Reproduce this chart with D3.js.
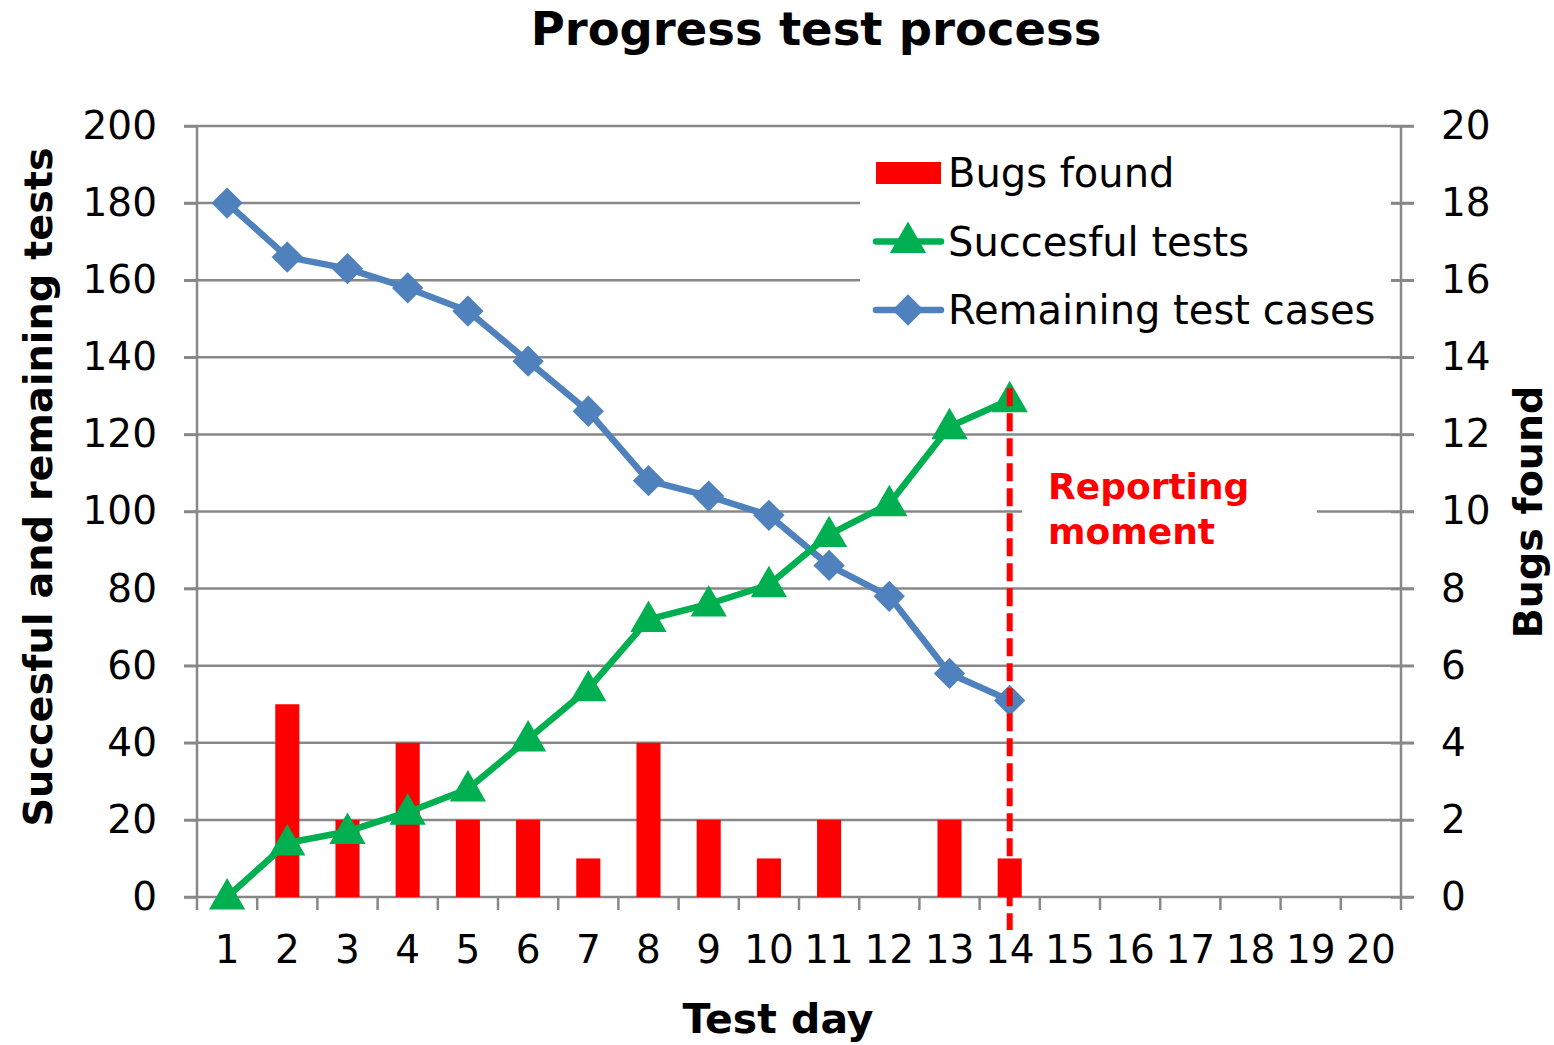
<!DOCTYPE html>
<html>
<head>
<meta charset="utf-8">
<script src="https://cdn.jsdelivr.net/npm/d3@7"></script>
<style>
  body { margin: 0; background: #fff; }
  svg { display: block; font-family: Verdana, "DejaVu Sans", sans-serif; }
</style>
</head>
<body>
<svg id="chart" width="1554" height="1045"></svg>
<script>
const days = d3.range(1, 21);
const bugsFound = [0, 5, 2, 4, 2, 2, 1, 4, 2, 1, 2, 0, 2, 1];
const succesfulTests = [0, 14, 17, 22, 28, 41, 54, 72, 76, 81, 94, 102, 122, 129];
const remainingTests = [180, 166, 163, 158, 152, 139, 126, 108, 104, 99, 86, 78, 58, 51];
const leftTicks = d3.range(0, 201, 20);
const rightTicks = d3.range(0, 21, 2);
const reportingDay = 14;

const red = '#ff0000', green = '#00b050', blue = '#4f81bd', grid = '#888888';

const svg = d3.select('#chart');
const plotL = 197, plotR = 1401, plotT = 126, plotB = 897;

const x = d3.scaleBand().domain(days).range([plotL, plotR]).padding(0);
const yL = d3.scaleLinear().domain([0, 200]).range([plotB, plotT]);
const yR = d3.scaleLinear().domain([0, 20]).range([plotB, plotT]);
const cx = d => x(d) + x.bandwidth() / 2;

// gridlines
svg.append('g').selectAll('line').data(leftTicks).join('line')
  .attr('x1', plotL - 13).attr('x2', plotR + 13)
  .attr('y1', d => yL(d)).attr('y2', d => yL(d))
  .attr('stroke', grid).attr('stroke-width', 2.5);

// left axis
const gl = svg.append('g').attr('transform', `translate(${plotL},0)`)
  .call(d3.axisLeft(yL).tickValues(leftTicks).tickSize(13).tickPadding(27));
gl.select('.domain').attr('stroke', grid).attr('stroke-width', 2.5).attr('d', `M0,${plotT}V${plotB}`);
gl.selectAll('.tick line').attr('stroke', grid).attr('stroke-width', 2.5);
gl.selectAll('.tick text').attr('font-size', 39).attr('fill', '#000');
gl.attr('font-family', null);

// right axis
const gr = svg.append('g').attr('transform', `translate(${plotR},0)`)
  .call(d3.axisRight(yR).tickValues(rightTicks).tickSize(13).tickPadding(27));
gr.select('.domain').attr('stroke', grid).attr('stroke-width', 2.5).attr('d', `M0,${plotT}V${plotB}`);
gr.selectAll('.tick line').attr('stroke', grid).attr('stroke-width', 2.5).attr('x1', -10);
gr.selectAll('.tick text').attr('font-size', 39).attr('fill', '#000');
gr.attr('font-family', null);

// bottom axis
const gb = svg.append('g').attr('transform', `translate(0,${plotB})`)
  .call(d3.axisBottom(x).tickSize(0).tickPadding(38));
gb.select('.domain').remove();
gb.selectAll('.tick text').attr('font-size', 39).attr('fill', '#000');
gb.attr('font-family', null);
gb.append('g').selectAll('line').data(days.concat([21])).join('line')
  .attr('x1', d => d <= 20 ? x(d) : plotR).attr('x2', d => d <= 20 ? x(d) : plotR)
  .attr('y1', 0).attr('y2', 13)
  .attr('stroke', grid).attr('stroke-width', 2.5);

// bars
const barW = x.bandwidth() * 0.4;
svg.append('g').selectAll('rect').data(bugsFound).join('rect')
  .attr('x', (d, i) => cx(days[i]) - barW / 2)
  .attr('width', barW)
  .attr('y', d => yR(d))
  .attr('height', d => plotB - yR(d))
  .attr('fill', red);

const diamond = d3.symbol().type(d3.symbolSquare).size(490);
const triangle = d3.symbol().type(d3.symbolTriangle).size(570);

// remaining
svg.append('path').datum(remainingTests)
  .attr('fill', 'none').attr('stroke', blue).attr('stroke-width', 6.5).attr('stroke-linejoin', 'round')
  .attr('d', d3.line().x((d, i) => cx(days[i])).y(d => yL(d)));
svg.append('g').selectAll('path').data(remainingTests).join('path')
  .attr('d', diamond)
  .attr('transform', (d, i) => `translate(${cx(days[i])},${yL(d)}) rotate(45)`)
  .attr('fill', blue);

// succesful
svg.append('path').datum(succesfulTests)
  .attr('fill', 'none').attr('stroke', green).attr('stroke-width', 6.5).attr('stroke-linejoin', 'round')
  .attr('d', d3.line().x((d, i) => cx(days[i])).y(d => yL(d)));
svg.append('g').selectAll('path').data(succesfulTests).join('path')
  .attr('d', triangle)
  .attr('transform', (d, i) => `translate(${cx(days[i])},${yL(d) + 2})`)
  .attr('fill', green);

// legend
const lg = svg.append('g');
lg.append('rect').attr('x', 860).attr('y', 146).attr('width', 531).attr('height', 206).attr('fill', '#fff');
const items = [
  { name: 'Bugs found', type: 'bar', color: red },
  { name: 'Succesful tests', type: 'tri', color: green },
  { name: 'Remaining test cases', type: 'dia', color: blue }
];
items.forEach((it, i) => {
  const yy = 173 + i * 68.5;
  if (it.type === 'bar') {
    lg.append('rect').attr('x', 876).attr('y', yy - 11).attr('width', 65).attr('height', 22).attr('fill', it.color);
  } else {
    lg.append('line').attr('x1', 876).attr('x2', 941).attr('y1', yy).attr('y2', yy)
      .attr('stroke', it.color).attr('stroke-width', 6.5).attr('stroke-linecap', 'round');
    lg.append('path').attr('d', it.type === 'tri' ? triangle : diamond)
      .attr('transform', it.type === 'tri' ? `translate(908,${yy + 1})` : `translate(908,${yy}) rotate(45)`)
      .attr('fill', it.color);
  }
  lg.append('text').attr('x', 948).attr('y', yy + 14).attr('font-size', 40).text(it.name);
});

// reporting moment
svg.append('rect').attr('x', 1022).attr('y', 455).attr('width', 295).attr('height', 105).attr('fill', '#fff');
svg.append('text').attr('x', 1048).attr('y', 499).attr('font-size', 36).attr('font-weight', 'bold').attr('fill', red)
  .selectAll('tspan').data(['Reporting', 'moment']).join('tspan')
  .attr('x', 1048).attr('dy', (d, i) => i ? 45 : 0).text(d => d);
svg.append('line')
  .attr('x1', cx(reportingDay)).attr('x2', cx(reportingDay))
  .attr('y1', yL(132)).attr('y2', 930)
  .attr('stroke', red).attr('stroke-width', 6).attr('stroke-dasharray', '18,7');

// titles
svg.append('text').attr('x', 816).attr('y', 45).attr('text-anchor', 'middle')
  .attr('font-size', 46.5).attr('font-weight', 'bold').text('Progress test process');
svg.append('text').attr('x', 778).attr('y', 1033).attr('text-anchor', 'middle')
  .attr('font-size', 41).attr('font-weight', 'bold').text('Test day');
svg.append('text').attr('transform', 'translate(52,487) rotate(-90)').attr('text-anchor', 'middle')
  .attr('font-size', 39.8).attr('font-weight', 'bold').text('Succesful and remaining tests');
svg.append('text').attr('transform', 'translate(1542,512) rotate(-90)').attr('text-anchor', 'middle')
  .attr('font-size', 39.5).attr('font-weight', 'bold').text('Bugs found');
</script>
</body>
</html>
